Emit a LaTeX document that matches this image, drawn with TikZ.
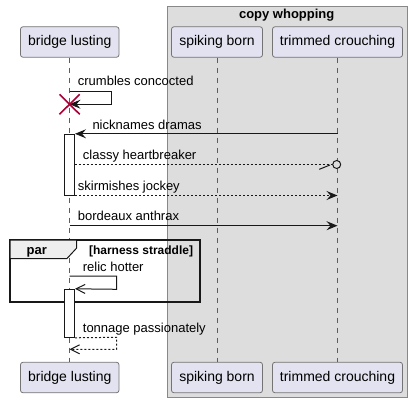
\documentclass[tikz,border=0pt]{standalone}
\usepackage{fontspec}
\setmainfont{Liberation Sans}
\usetikzlibrary{arrows.meta}
\definecolor{partfill}{HTML}{E2E2F0}
\definecolor{partline}{HTML}{181818}
\definecolor{grpfill}{HTML}{DDDDDD}
\definecolor{grpline}{HTML}{888888}
\definecolor{xred}{HTML}{A80036}
\definecolor{framefill}{HTML}{EEEEEE}
\begin{document}
\begin{tikzpicture}[x=1pt,y=-1pt,
  part/.style={draw=partline!60, fill=partfill, rounded corners=2.5pt, minimum height=30.5pt, inner sep=0pt, font=\fontsize{14}{16}\selectfont, line width=0.8pt},
  life/.style={draw=partline!70, dash pattern=on 5pt off 5pt, line width=0.7pt},
  msg/.style={draw=partline, line width=1pt},
  dmsg/.style={msg, dash pattern=on 2pt off 2pt},
  fullhead/.style={-{Stealth[length=11pt,width=9pt,inset=4pt]}},
  openhead/.style={-{Straight Barb[length=9pt,width=9pt]}},
  lbl/.style={anchor=base west, inner sep=0pt, font=\fontsize{13}{15}\selectfont},
  actbar/.style={draw=partline, fill=white, line width=1pt, minimum width=10pt, inner sep=0pt},
  boldlbl/.style={inner sep=0pt, font=\fontsize{13}{15}\selectfont\bfseries},
]
\useasboundingbox (0,0) rectangle (411,403);
% group box
\draw[fill=grpfill, draw=grpline, line width=1pt] (167,6.5) rectangle (407,397.5);
\node[boldlbl, anchor=base] (gtitle) at (286.7,19) {copy whopping};
% participants
\node[part, minimum width=98.5pt] (blT) at (69.75,42) {bridge lusting};
\node[part, minimum width=91pt] (sbT) at (217,42) {spiking born};
\node[part, minimum width=130pt] (tcT) at (337.5,42) {trimmed crouching};
\node[part, minimum width=98.5pt] (blB) at (69.75,377.5) {bridge lusting};
\node[part, minimum width=91pt] (sbB) at (217,377.5) {spiking born};
\node[part, minimum width=130pt] (tcB) at (337.5,377.5) {trimmed crouching};
% lifelines
\draw[life] (blT.south) -- (blB.north);
\draw[life] (sbT.south) -- (sbB.north);
\draw[life] (tcT.south) -- (tcB.north);
% message 1: self, destroy
\coordinate (m1a) at (69.5,91.3);
\coordinate (m1b) at (69.5,104.2);
\draw[msg, fullhead] (m1a) -- (111.3,91.3) -- (111.3,104.2) -- (m1b);
\node[lbl] (l1) at (77.7,86) {crumbles concocted};
\draw[xred, line width=1.6pt] (59.5,94.3) -- (79.7,114.3) (59.5,114.3) -- (79.7,94.3);
% activation 1
\node[actbar, minimum height=60.7pt] (act1) at (69.5,164.65) {};
% message 2
\draw[msg, fullhead] (tcT.south |- act1.north east) -- (act1.north east);
\node[lbl] (l2) at (92.3,130) {nicknames dramas};
% message 3
\coordinate (m3a) at (74.5,164.7);
\coordinate (m3b) at (332.5,164.7);
\draw[dmsg] (m3a) -- (m3b);
\node[draw=partline, line width=1pt, circle, minimum size=8pt, inner sep=0pt, fill=grpfill] (m3c) at (336.7,164.5) {};
\draw[msg] (319.3,169.3) -- (330,165);
\node[lbl] (l3) at (82.7,160) {classy heartbreaker};
% message 4
\draw[dmsg, fullhead] (act1.south east) -- (tcT.south |- act1.south east);
\node[lbl] (l4) at (77.7,190.3) {skirmishes jockey};
% message 5
\coordinate (m5a) at (69.5,225.7);
\draw[msg, fullhead] (m5a) -- (tcT.south |- m5a);
\node[lbl] (l5) at (77.7,220.7) {bordeaux anthrax};
% par frame
\draw[partline, line width=1.6pt] (10,240) rectangle (200,302);
\filldraw[draw=partline, fill=framefill, line width=1pt] (10,240) -- (76.7,240) -- (76.7,248) -- (67,258.5) -- (10,258.5) -- cycle;
\node[boldlbl, anchor=base west] (ptag) at (26.5,254.5) {par};
\node[inner sep=0pt, anchor=base east, font=\fontsize{12}{14}\selectfont\bfseries] (pcond) at (193.3,254.5) {[harness straddle]};
% activation 2
\node[actbar, minimum height=48pt] (act2) at (69.5,313.3) {};
% message 6
\coordinate (m6a) at (69.5,276);
\draw[msg, openhead] (m6a) -- (116.7,276) -- (116.7,289.3) -- (act2.north east);
\node[lbl] (l6) at (82.7,271.7) {relic hotter};
% message 7
\coordinate (m7b) at (69.5,349.3);
\draw[dmsg, openhead] (act2.south east) -- (116.7,337.3) -- (116.7,349.3) -- (m7b);
\node[lbl] (l7) at (82.7,332) {tonnage passionately};
\end{tikzpicture}
\end{document}
